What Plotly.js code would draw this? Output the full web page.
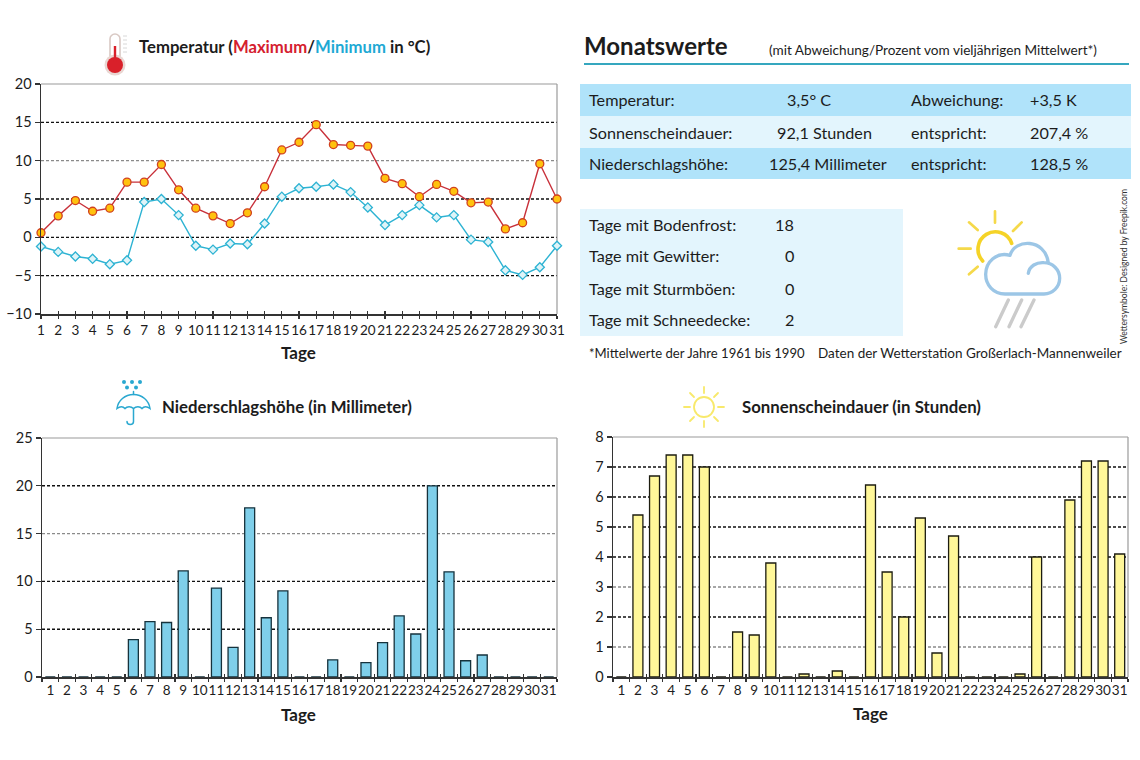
<!DOCTYPE html>
<html><head><meta charset="utf-8">
<script src="https://cdn.plot.ly/plotly-3.0.1.min.js"></script>
<style>html,body{margin:0;padding:0;background:#fff}#c{width:1140px;height:760px}</style>
</head><body><div id="c"></div>
<script>
const days=['1','2','3','4','5','6','7','8','9','10','11','12','13','14','15','16','17','18','19','20','21','22','23','24','25','26','27','28','29','30','31'];
const tempMax=[0.6,2.8,4.8,3.4,3.8,7.2,7.2,9.5,6.2,3.8,2.8,1.8,3.2,6.6,11.4,12.4,14.7,12.1,12.0,11.9,7.7,7.0,5.3,6.9,6.0,4.5,4.6,1.1,1.9,9.6,5.0];
const tempMin=[-1.2,-1.9,-2.5,-2.8,-3.5,-3.0,4.6,5.0,2.9,-1.1,-1.6,-0.8,-0.9,1.8,5.3,6.4,6.6,6.9,5.9,3.9,1.6,2.9,4.2,2.6,2.9,-0.3,-0.6,-4.3,-4.9,-3.9,-1.1];
const rain=[0,0,0,0,0,3.9,5.8,5.7,11.1,0,9.3,3.1,17.7,6.2,9.0,0,0,1.8,0,1.5,3.6,6.4,4.5,20,11,1.7,2.3,0,0,0,0];
const sun=[0,5.4,6.7,7.4,7.4,7.0,0,1.5,1.4,3.8,0,0.1,0,0.2,0,6.4,3.5,2,5.3,0.8,4.7,0,0,0,0.1,4,0,5.9,7.2,7.2,4.1];
const gridDark1=[15,5,0,-5], gridLight1=[10];
const gridDark2=[20,10,5], gridLight2=[15];
const gridDark3=[7,6,5,4,2], gridLight3=[3,1];
const summaryRows=[['Temperatur:','3,5° C','Abweichung:','+3,5 K'],['Sonnenscheindauer:','92,1 Stunden','entspricht:','207,4 %'],['Niederschlagshöhe:','125,4 Millimeter','entspricht:','128,5 %']];
const countLabels=['Tage mit Bodenfrost:','Tage mit Gewitter:','Tage mit Sturmböen:','Tage mit Schneedecke:'];
const countValues=['18','0','0','2'];

const FONT='Lato,sans-serif';
const W=1140,H=760;
const X=x=>x/W, Y=y=>1-y/H;
const INK='#1c1c1c';
const plots=[
 {x:[41,557],y:[84,314]},
 {x:[42,557],y:[438,677]},
 {x:[613,1128],y:[437,677]}
];
function xAxis(p,anchor,extra){return Object.assign({domain:[X(p.x[0]),X(p.x[1])],anchor:anchor,type:'category',categoryorder:'array',categoryarray:days,
  tickmode:'array',tickvals:days,ticktext:days,tickangle:0,ticks:'outside',ticklen:3,tickwidth:1.2,tickcolor:'#333',showgrid:false,showline:true,linecolor:'#333',linewidth:1.5,
  zeroline:false,tickfont:{family:FONT,size:13.5,color:INK},fixedrange:true},extra)}
function overlayX(p,anchor,over,extra){return xAxis(p,anchor,Object.assign({overlaying:over,ticks:'inside',showticklabels:false,ticklen:3,showline:false},extra))}
function yAxis(p,anchor,range,dtick){return {domain:[Y(p.y[1]),Y(p.y[0])],anchor:anchor,range:range,dtick:dtick,tick0:0,ticks:'outside',ticklen:5,tickwidth:1.2,tickcolor:'#333',
  showgrid:false,zeroline:false,showline:true,linecolor:'#333',linewidth:1.5,tickfont:{family:FONT,size:14.5,color:INK},fixedrange:true}}

const shapes=[],annotations=[],images=[];
function rect(x0,y0,x1,y1,c){shapes.push({type:'rect',xref:'paper',yref:'paper',x0:X(x0),x1:X(x1),y0:Y(y0),y1:Y(y1),fillcolor:c,line:{width:0},layer:'below'})}
function gridLines(vals,ya,xa,color){vals.forEach(v=>shapes.push({type:'line',xref:xa+' domain',yref:ya,x0:0,x1:1,y0:v,y1:v,layer:'below',line:{color:color,width:1.4,dash:'3px,2px'}}))}
function frame(p){
 shapes.push({type:'line',xref:'paper',yref:'paper',x0:X(p.x[0]),x1:X(p.x[1]),y0:Y(p.y[0]),y1:Y(p.y[0]),line:{color:'#9a9a9a',width:1.2},layer:'below'});
 shapes.push({type:'line',xref:'paper',yref:'paper',x0:X(p.x[1]),x1:X(p.x[1]),y0:Y(p.y[0]),y1:Y(p.y[1]),line:{color:'#9a9a9a',width:1.2},layer:'below'});
}
function text(x,y,t,size,opts){annotations.push(Object.assign({xref:'paper',yref:'paper',x:X(x),y:Y(y),text:t,showarrow:false,xanchor:'left',yanchor:'middle',
  borderpad:0,font:{family:FONT,size:size,color:INK}},opts||{}))}
function icon(svg,x,y,w,h,vw,vh){images.push({source:'data:image/svg+xml;utf8,'+encodeURIComponent('<svg xmlns="http://www.w3.org/2000/svg" width="'+w*3+'" height="'+h*3+'" viewBox="0 0 '+vw+' '+vh+'">'+svg+'</svg>'),
  xref:'paper',yref:'paper',x:X(x),y:Y(y),sizex:w/W,sizey:h/H,sizing:'stretch',xanchor:'left',yanchor:'top',layer:'above'})}

gridLines(gridDark1,'y','x','#111');gridLines(gridLight1,'y','x','#8a8a8a');
gridLines(gridDark2,'y2','x2','#111');gridLines(gridLight2,'y2','x2','#8a8a8a');
gridLines(gridDark3,'y3','x3','#111');gridLines(gridLight3,'y3','x3','#8a8a8a');
plots.forEach(frame);

rect(580,84,1131,116,'#b0e3fa');rect(580,116,1131,148,'#e3f5fd');rect(580,148,1131,179,'#b0e3fa');
rect(580,209,903,336,'#e3f5fd');
shapes.push({type:'line',xref:'paper',yref:'paper',x0:X(584),x1:X(1129),y0:Y(64),y1:Y(64),line:{color:'#35a7bf',width:2}});

text(138,47,'<b>Temperatur (<span style="color:#d5202e">Maximum</span>/<span style="color:#1ea9d4">Minimum</span> in °C)</b>',16.7);
text(161,406,'<b>Niederschlagshöhe (in Millimeter)</b>',16.8);
text(741,406,'<b>Sonnenscheindauer (in Stunden)</b>',16.8);
text(298,352,'<b>Tage</b>',17,{xanchor:'center'});
text(298,714,'<b>Tage</b>',17,{xanchor:'center'});
text(870,713,'<b>Tage</b>',17,{xanchor:'center'});
text(583,46,'<b>Monatswerte</b>',24);
text(768,50,'(mit Abweichung/Prozent vom vieljährigen Mittelwert*)',13.6);
const rowY=[100,132,163], valX=[786,776,768];
summaryRows.forEach((r,i)=>{
 text(588,rowY[i],r[0],16.2);
 text(valX[i],rowY[i],r[1],16.2);
 text(910,rowY[i],r[2],16.2);
 text(1029,rowY[i],r[3],16.2);
});
const cntY=[224,256,288,319];
countLabels.forEach((l,i)=>{text(588,cntY[i],l,16.2);text(795,cntY[i],countValues[i],16.2,{xanchor:'right'})});
text(588,353,'*Mittelwerte der Jahre 1961 bis 1990',13.1);
text(817,353,'Daten der Wetterstation Großerlach-Mannenweiler',13.5);
text(1124,267,'Wettersymbole: Designed by Freepik.com',9,{textangle:-90,xanchor:'center',font:{family:FONT,size:8.5,color:'#333'}});

icon('<rect x="10" y="2" width="10" height="34" rx="5" fill="#fff" stroke="#d9c9c4" stroke-width="1.6"/><circle cx="15" cy="33" r="10.5" fill="#e9d6d2"/><circle cx="15" cy="33" r="8" fill="#d9202a"/><rect x="13.8" y="14" width="2.4" height="16" fill="#d9202a"/><g stroke="#d8d8d8" stroke-width="1"><path d="M23 4h4M23 8h4M23 12h4M23 16h4M23 20h4"/></g>',100,32,30,44,30,44);
icon('<g fill="none" stroke="#2aa8d0" stroke-width="1.5" stroke-linecap="round"><path d="M1 29C2 21 9 15 17.500 15S33 21 34 29C31 26.500 28 26.500 26 29C24 26.500 20 26.500 17.500 29C15 26.500 11 26.500 9 29C7 26.500 4 26.500 1 29Z"/><path d="M17.500 12V15M17.500 29V42C17.500 46 11 46 11 42"/></g><g fill="#2aa8d0"><circle cx="8" cy="2.500" r="2"/><circle cx="16" cy="2.500" r="2"/><circle cx="24" cy="2.500" r="2"/><circle cx="11" cy="8" r="2"/><circle cx="20" cy="8" r="2"/></g>',116,376,35,54,35,47);
icon('<g fill="none" stroke="#f8e96b" stroke-width="1.800" stroke-linecap="round"><circle cx="21" cy="21" r="10"/><path d="M21 1V7M21 35V41M1 21H7M35 21H41M7 7L11 11M35 7L31 11M7 35L11 31M35 35L31 31"/></g>',683,386,42,42,42,42);
icon('<g fill="none" stroke-linecap="round"><path d="M245 160A52 52 0 1 0 158 213" stroke="#f5d327" stroke-width="11"/><path d="M195 64V98M117 97L143 120M275 97L249 123M86 176H122M117 253L143 230" stroke="#f5d94a" stroke-width="8"/><path d="M240 196C255 145 345 145 355 218M225 312H342A47 47 0 0 0 342 218C320 216 298 228 295 250M240 196C200 185 167 215 167 253C167 285 190 312 225 312" stroke="#9cc6e6" stroke-width="10"/><path d="M235 330L197 410M275 330L237 410M312 330L273 410" stroke="#cbcbcb" stroke-width="10"/></g>',930,190,206,160,618,480);

const data=[
 {type:'scatter',mode:'lines+markers',x:days,y:tempMin,xaxis:'x',yaxis:'y',cliponaxis:false,line:{color:'#2db3d3',width:1.4},marker:{symbol:'diamond',size:7,color:'#dff4f8',line:{color:'#2db3d3',width:1.3}},hoverinfo:'skip'},
 {type:'scatter',mode:'lines+markers',x:days,y:tempMax,xaxis:'x',yaxis:'y',cliponaxis:false,line:{color:'#c8303a',width:1.4},marker:{symbol:'circle',size:8,color:'#ffc20e',line:{color:'#d0401f',width:1.3}},hoverinfo:'skip'},
 {type:'bar',x:days,y:rain,xaxis:'x2',yaxis:'y2',marker:{color:'#7fcfea',line:{color:'#16323c',width:1.3}},hoverinfo:'skip'},
 {type:'bar',x:days,y:sun,xaxis:'x3',yaxis:'y3',marker:{color:'#fff799',line:{color:'#1c1c10',width:1.3}},hoverinfo:'skip'},
 {type:'scatter',mode:'none',x:days,y:tempMax,xaxis:'x4',yaxis:'y',hoverinfo:'skip'},
 {type:'scatter',mode:'none',x:days,y:rain,xaxis:'x5',yaxis:'y2',hoverinfo:'skip'},
 {type:'scatter',mode:'none',x:days,y:sun,xaxis:'x6',yaxis:'y3',hoverinfo:'skip'}
];
const layout={width:W,height:H,margin:{l:0,r:0,t:0,b:0},paper_bgcolor:'#fff',plot_bgcolor:'rgba(0,0,0,0)',showlegend:false,bargap:0.4,hovermode:false,
 xaxis:xAxis(plots[0],'y',{range:[0,30]}),
 xaxis2:xAxis(plots[1],'y2',{range:[-0.5,30.5],tickson:'boundaries'}),
 xaxis3:xAxis(plots[2],'y3',{range:[-0.5,30.5],tickson:'boundaries'}),
 xaxis4:overlayX(plots[0],'y','x',{range:[0,30]}),
 xaxis5:overlayX(plots[1],'y2','x2',{range:[-0.5,30.5],tickson:'boundaries'}),
 xaxis6:overlayX(plots[2],'y3','x3',{range:[-0.5,30.5],tickson:'boundaries'}),
 yaxis:yAxis(plots[0],'x',[-10,20],5),
 yaxis2:yAxis(plots[1],'x2',[0,25],5),
 yaxis3:yAxis(plots[2],'x3',[0,8],1),
 shapes:shapes,annotations:annotations,images:images};
Plotly.newPlot('c',data,layout,{displayModeBar:false,staticPlot:true});
</script></body></html>
